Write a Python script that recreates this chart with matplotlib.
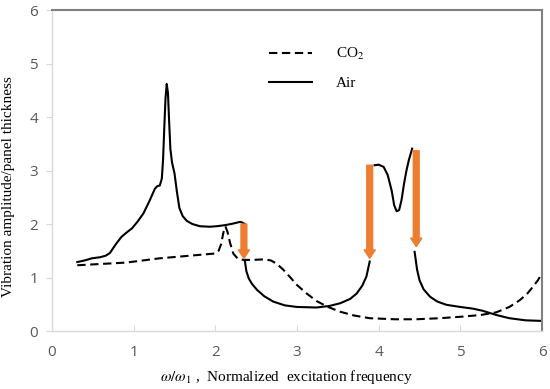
import numpy as np
import matplotlib
matplotlib.use('Agg')
from matplotlib import pyplot as plt

plt.rcParams['mathtext.fontset'] = 'stix'

# Air (solid), four pieces separated by the jumps
air_x1 = [0.31, 0.40, 0.49, 0.59, 0.66, 0.71, 0.78, 0.85, 0.92, 0.98, 1.05, 1.12, 1.19,
          1.26, 1.29, 1.32, 1.345, 1.36, 1.375, 1.39, 1.405, 1.42, 1.435, 1.45, 1.47,
          1.50, 1.53, 1.56, 1.60, 1.65, 1.72, 1.81, 1.93, 2.02, 2.12, 2.22, 2.30, 2.33, 2.36]
air_y1 = [1.29, 1.32, 1.36, 1.38, 1.41, 1.46, 1.62, 1.76, 1.85, 1.92, 2.05, 2.20, 2.42,
          2.66, 2.71, 2.72, 2.85, 3.20, 3.80, 4.35, 4.62, 4.45, 3.90, 3.40, 3.15,
          2.95, 2.60, 2.30, 2.15, 2.06, 2.00, 1.96, 1.95, 1.96, 1.98, 2.01, 2.04, 2.03, 2.00]
air_x2 = [2.36, 2.38, 2.41, 2.45, 2.51, 2.60, 2.71, 2.85, 3.00, 3.24, 3.40, 3.53, 3.65,
          3.73, 3.80, 3.85, 3.89]
air_y2 = [1.33, 1.12, 0.98, 0.88, 0.77, 0.65, 0.55, 0.48, 0.45, 0.44, 0.47, 0.52, 0.60,
          0.70, 0.85, 1.02, 1.30]
air_x3 = [3.95, 4.00, 4.06, 4.11, 4.16, 4.19, 4.22, 4.25, 4.28, 4.31, 4.34, 4.37, 4.41]
air_y3 = [3.10, 3.11, 3.07, 2.92, 2.62, 2.35, 2.24, 2.26, 2.45, 2.75, 3.00, 3.20, 3.41]
air_x4 = [4.44, 4.47, 4.50, 4.55, 4.63, 4.72, 4.83, 5.00, 5.15, 5.27, 5.44, 5.60, 5.80, 5.99]
air_y4 = [1.48, 1.15, 0.95, 0.78, 0.64, 0.55, 0.49, 0.45, 0.42, 0.38, 0.30, 0.24, 0.20, 0.19]

# CO2 (dashed)
co2_x = [0.31, 0.91, 1.32, 1.70, 2.00, 2.04, 2.07, 2.10, 2.125, 2.15, 2.18, 2.22, 2.27,
         2.34, 2.45, 2.60, 2.68, 2.75, 2.83, 2.92, 3.00, 3.12, 3.24, 3.38, 3.53, 3.70,
         3.89, 4.20, 4.46, 4.75, 5.03, 5.25, 5.44, 5.60, 5.73, 5.82, 5.89, 5.95, 6.0]
co2_y = [1.23, 1.28, 1.36, 1.41, 1.45, 1.50, 1.62, 1.85, 1.95, 1.85, 1.65, 1.45, 1.36,
         1.33, 1.33, 1.34, 1.32, 1.26, 1.15, 1.00, 0.86, 0.70, 0.56, 0.45, 0.36, 0.29,
         0.24, 0.22, 0.22, 0.24, 0.27, 0.30, 0.35, 0.45, 0.58, 0.70, 0.83, 0.95, 1.08]

# jump arrows: x, start y, end y
arrow_x = [2.35, 3.89, 4.46]
arrow_top = [2.00, 3.10, 3.37]
arrow_tip = [1.36, 1.36, 1.58]

fig = plt.figure(figsize=(5.5, 3.89), dpi=100)
ax = fig.add_axes([0.0945, 0.149, 0.891, 0.825])

ax.plot(co2_x, co2_y, color='black', lw=1.5, dashes=(4, 2.2), label='CO$_2$')
ax.plot(air_x1, air_y1, color='black', lw=1.5, label='Air')
for xs, ys in [(air_x2, air_y2), (air_x3, air_y3), (air_x4, air_y4)]:
    ax.plot(xs, ys, color='black', lw=1.5)

for x, y0, y1 in zip(arrow_x, arrow_top, arrow_tip):
    ax.annotate('', xy=(x, y1), xytext=(x, y0),
                arrowprops=dict(arrowstyle='simple,head_width=0.8,head_length=0.6,tail_width=0.42',
                                color='#ed7d31', shrinkA=0, shrinkB=0, mutation_scale=10))

ax.set_xlim(0, 6)
ax.set_ylim(0, 6)
ax.set_xticks(range(7))
ax.set_yticks(range(7))

for s in ['left', 'bottom']:
    ax.spines[s].set_color('#d9d9d9')
    ax.spines[s].set_linewidth(1.0)
for s in ['top', 'right']:
    ax.spines[s].set_color('#808080')
    ax.spines[s].set_linewidth(1.5)

ax.tick_params(axis='x', direction='in', length=4, color='#d9d9d9', pad=10,
               labelsize=11, labelcolor='#595959')
ax.tick_params(axis='y', direction='out', length=4, color='#d9d9d9', pad=6,
               labelsize=11, labelcolor='#595959')
for lab in ax.get_xticklabels() + ax.get_yticklabels():
    lab.set_family('Open Sans')

ax.set_xlabel(r'$\omega/\omega_1$ ,  Normalized  excitation frequency',
              family='Liberation Serif', fontsize=11)
ax.xaxis.set_label_coords(0.478, -0.115)
ax.set_ylabel('Vibration amplitude/panel thickness', family='Liberation Serif',
              fontsize=11)
ax.yaxis.set_label_coords(-0.076, 0.449)

leg = ax.legend(loc='upper left', bbox_to_anchor=(0.415, 0.93), frameon=False,
                handlelength=2.8, handletextpad=1.55, labelspacing=0.9,
                prop={'family': 'Liberation Serif', 'size': 11})

fig.savefig('out.png', dpi=100)
